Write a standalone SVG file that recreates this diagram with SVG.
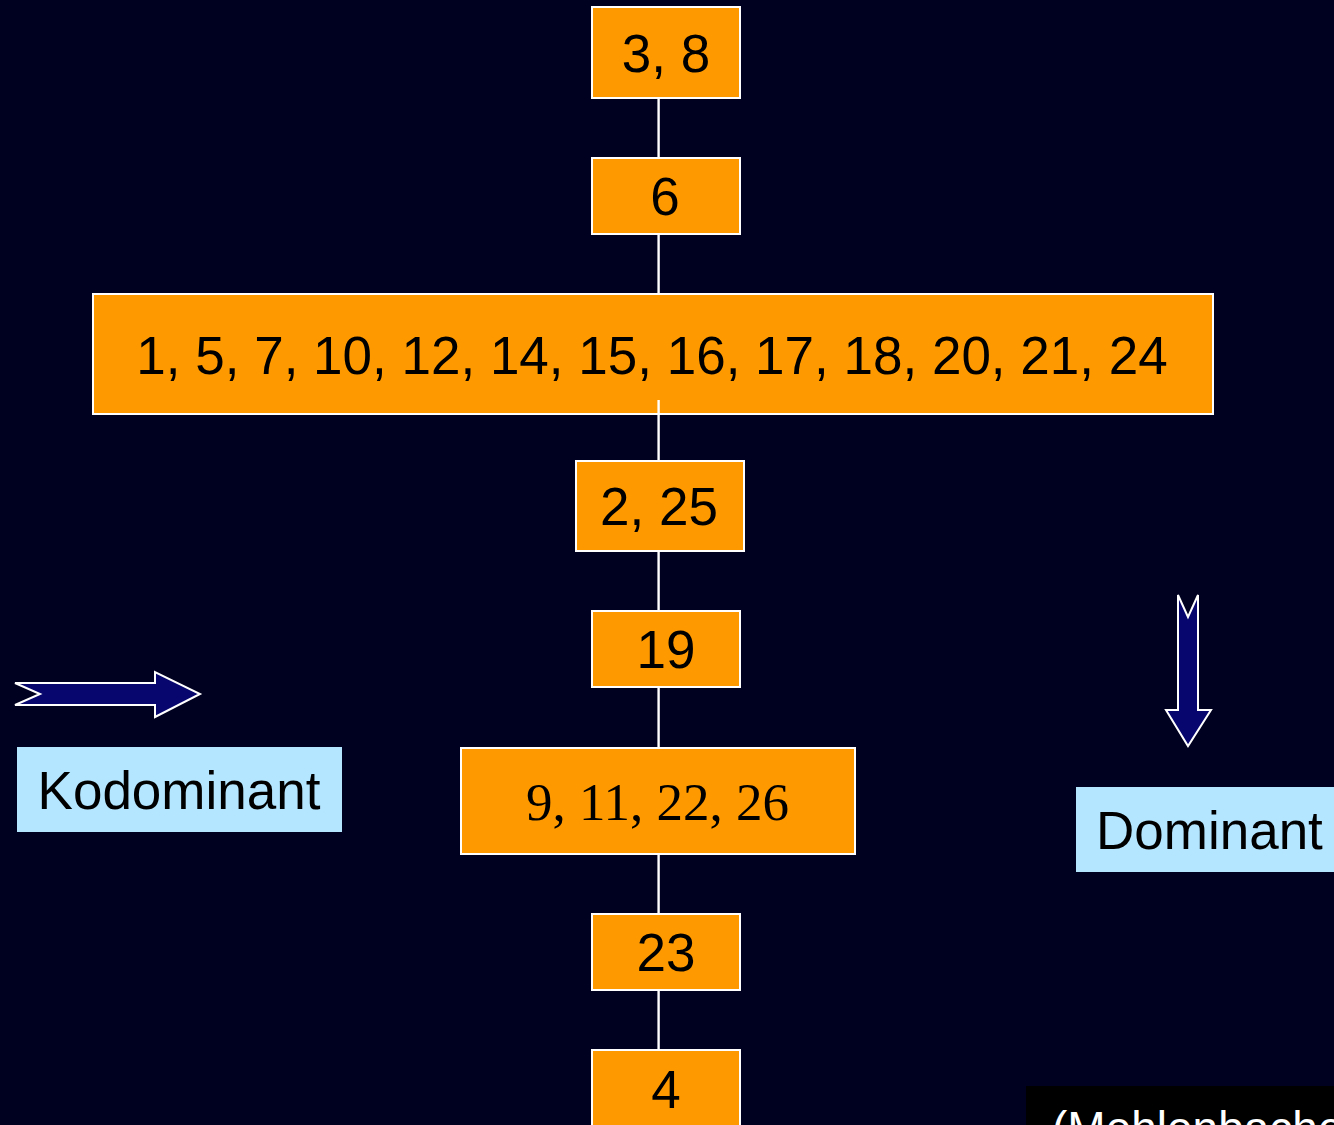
<svg xmlns="http://www.w3.org/2000/svg" width="1334" height="1125" viewBox="0 0 1334 1125">
  <style>
    .box { fill: #FF9900; stroke: #FFFFFF; stroke-width: 2; }
    .lbl { font-family: "Liberation Sans", Arial, sans-serif; font-size: 53px; fill: #000000; text-anchor: middle; }
    .serif { font-family: "Liberation Serif", "Times New Roman", serif; }
    .tag { fill: #B4E6FF; }
    .arrow { fill: #06066E; stroke: #FFFFFF; stroke-width: 2; stroke-linejoin: miter; }
    .link { stroke: #FFFFFF; stroke-width: 2.4; fill: none; }
  </style>
  <rect x="0" y="0" width="1334" height="1125" fill="#000020"/>

  <!-- vertical chain connecting the groups -->
  <g id="connectors">
    <line class="link" x1="658.6" y1="98" x2="658.6" y2="158"/>
    <line class="link" x1="658.6" y1="234" x2="658.6" y2="294"/>
    <line class="link" x1="658.6" y1="414" x2="658.6" y2="460"/>
    <line class="link" x1="658.6" y1="551" x2="658.6" y2="611"/>
    <line class="link" x1="658.6" y1="687" x2="658.6" y2="747"/>
    <line class="link" x1="658.6" y1="854" x2="658.6" y2="914"/>
    <line class="link" x1="658.6" y1="990" x2="658.6" y2="1050"/>
  </g>

  <g id="n-3-8">
    <rect class="box" x="592" y="7" width="148" height="91"/>
    <text class="lbl" x="666" y="72">3, 8</text>
  </g>
  <g id="n-6">
    <rect class="box" x="592" y="158" width="148" height="76"/>
    <text class="lbl" x="665" y="215">6</text>
  </g>
  <g id="n-big">
    <rect class="box" x="93" y="294" width="1120" height="120"/>
    <text class="lbl" x="652" y="374">1, 5, 7, 10, 12, 14, 15, 16, 17, 18, 20, 21, 24</text>
  </g>
  <!-- short stub of the connector drawn over the bottom edge of the wide box -->
  <line class="link" x1="658.6" y1="400" x2="658.6" y2="414"/>
  <g id="n-2-25">
    <rect class="box" x="576" y="461" width="168" height="90"/>
    <text class="lbl" x="659" y="525">2, 25</text>
  </g>
  <g id="n-19">
    <rect class="box" x="592" y="611" width="148" height="76"/>
    <text class="lbl" x="666" y="668">19</text>
  </g>
  <g id="n-9-11-22-26">
    <rect class="box" x="461" y="748" width="394" height="106"/>
    <text class="lbl serif" x="657.5" y="820">9, 11, 22, 26</text>
  </g>
  <g id="n-23">
    <rect class="box" x="592" y="914" width="148" height="76"/>
    <text class="lbl" x="666" y="971">23</text>
  </g>
  <g id="n-4">
    <rect class="box" x="592" y="1050" width="148" height="90"/>
    <text class="lbl" x="666" y="1108">4</text>
  </g>

  <!-- legend: codominant (horizontal arrow) and dominant (vertical arrow) -->
  <g id="kodominant-arrow">
    <polygon class="arrow" points="15,683 155,683 155,672 200,694 155,717 155,705 15,705 40,694"/>
  </g>
  <g id="kodominant-label">
    <rect class="tag" x="17" y="747" width="325" height="85"/>
    <text class="lbl" x="179" y="809">Kodominant</text>
  </g>
  <g id="dominant-arrow">
    <polygon class="arrow" points="1178,595 1188,617 1198,595 1198,710 1211,710 1188,746 1166,710 1178,710"/>
  </g>
  <g id="dominant-label">
    <rect class="tag" x="1076" y="787" width="270" height="85"/>
    <text class="lbl" x="1096" y="849" style="text-anchor:start">Dominant</text>
  </g>

  <g id="citation">
    <rect x="1026" y="1086" width="320" height="50" fill="#000000"/>
    <text x="1052" y="1144" font-family="'Liberation Sans', Arial, sans-serif" font-size="46" fill="#FFFFFF">(Mehlenbacher</text>
  </g>
</svg>
